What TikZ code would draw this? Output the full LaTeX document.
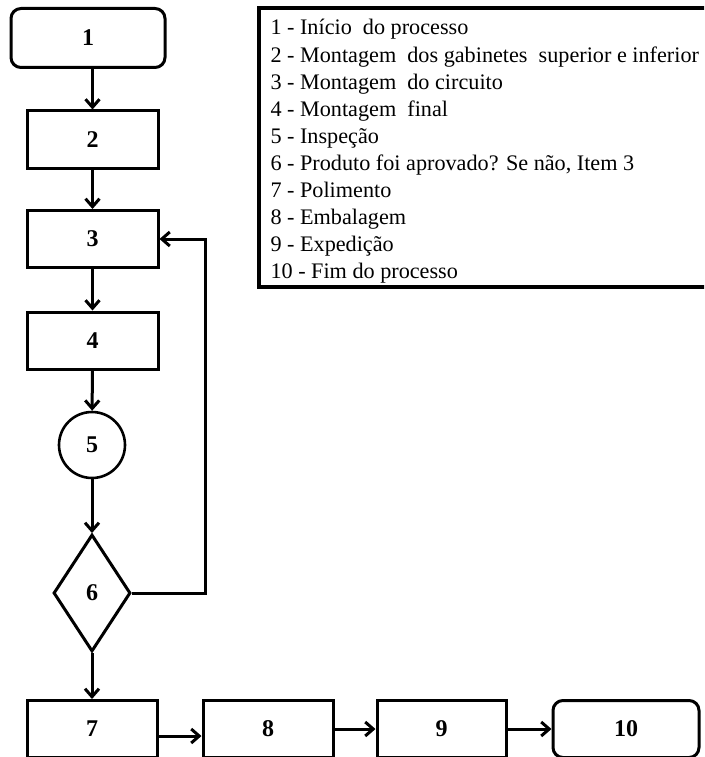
\documentclass[tikz,border=0pt]{standalone}
\usepackage{fontspec}
\setmainfont{Liberation Serif}
\usetikzlibrary{arrows.meta, shapes.geometric}

\begin{document}
\begin{tikzpicture}[x=1pt, y=-1pt, line width=3pt,
    >={Straight Barb[length=8pt, width=14pt, line width=3pt]},
    base/.style={draw, inner sep=0pt, font=\fontsize{24}{24}\selectfont\bfseries},
    stepbox/.style={base, rectangle, minimum width=131pt, minimum height=57pt},
    terminal/.style={stepbox, rounded corners=10pt},
    check/.style={base, circle, minimum size=66pt, line width=2.6pt},
    decision/.style={base, diamond, minimum width=77pt, minimum height=117pt},
    legend/.style={inner sep=0pt, anchor=base west, font=\fontsize{22.2}{22}\selectfont}]
  \useasboundingbox (0,0) rectangle (704,757);
  \clip (0,0) rectangle (704,757);

  % main flow
  \node[terminal, minimum width=154pt, minimum height=59pt] (n1) at (88,38) {1};
  \node[stepbox] (n2) at (92.5,139.5) {2};
  \node[stepbox] (n3) at (92.5,239) {3};
  \node[stepbox] (n4) at (92.5,340.5) {4};
  \node[check] (n5) at (92,445) {5};
  \node[decision] (n6) at (92,593) {6};
  \node[stepbox, minimum width=130pt] (n7) at (92,729) {7};
  \node[stepbox, minimum width=130pt] (n8) at (268,729) {8};
  \node[stepbox, minimum width=129pt] (n9) at (441.5,729) {9};
  \node[terminal, minimum width=146pt] (n10) at (626,729) {10};

  \draw[->] (n2.north |- n1.south) -- (n2.north);
  \draw[->] (n2) -- (n3);
  \draw[->] (n3) -- (n4);
  \draw[->] (n4) -- (n5);
  \draw[->] (n5) -- (n6);
  \draw[->] (n6) -- (n7);
  \draw[->] ([yshift=-7pt]n7.east) -- ([yshift=-7pt]n8.west);
  \draw[->] (n8) -- (n9);
  \draw[->] (n9) -- (n10);
  % back to step 3
  \draw[->] (n6.east) -- ++(73,0) |- (n3.east);

  % legend
  \draw[line width=3.2pt] (259,8) rectangle (720,287);
  \foreach \i/\txt in {1/{Início\ \ do processo},
                       2/{Montagem\ \ dos gabinetes\ \ superior e inferior},
                       3/{Montagem\ \ do circuito},
                       4/{Montagem\ \ final},
                       5/{Inspeção},
                       6/{Produto foi aprovado? Se não, Item 3},
                       7/{Polimento},
                       8/{Embalagem},
                       9/{Expedição},
                       10/{Fim do processo}} {
    \node[legend] (item\i) at (269, {7.9+27.1*\i}) {\i{} - \txt};
  }
\end{tikzpicture}
\end{document}
